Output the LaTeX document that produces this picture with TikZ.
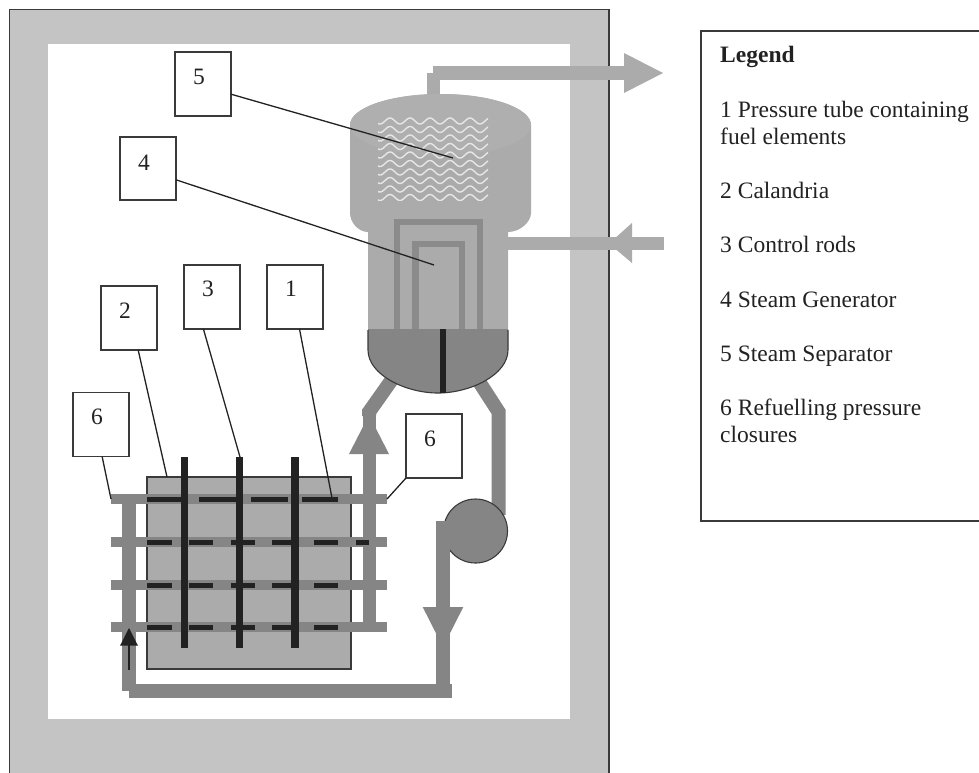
\documentclass[tikz,border=0pt]{standalone}
\usepackage{fontspec}
\setmainfont{Liberation Serif}
\definecolor{framegray}{HTML}{C4C4C4}
\definecolor{vessel}{HTML}{ABABAB}
\definecolor{vesseltop}{HTML}{AFAFAF}
\definecolor{pipegray}{HTML}{858585}
\definecolor{tubegray}{HTML}{8B8B8B}
\definecolor{wavewhite}{HTML}{E6E6E6}
\definecolor{inkdark}{HTML}{222222}
\definecolor{edgedark}{HTML}{3A3A3A}
\tikzset{
  numbox/.style={draw=edgedark,line width=1.3pt,fill=white,inner sep=0pt,outer sep=0pt,anchor=north west,
    text width=56pt,align=left,text height=32pt,text depth=32pt,text=inkdark,
    font=\fontsize{23.5}{27}\selectfont,execute at begin node=\hspace*{18pt}},
  leader/.style={draw=inkdark,line width=1.3pt},
  legendtext/.style={anchor=base west,inner sep=0pt,text=inkdark,font=\fontsize{23.5}{27}\selectfont},
  pipe/.style={fill=pipegray,draw=none},
  steam/.style={fill=vessel,draw=none},
  black rod/.style={fill=inkdark,draw=none}
}
\begin{document}
\begin{tikzpicture}[x=1pt,y=-1pt]
\clip (0,0) rectangle (979,772);
\fill[white] (0,0) rectangle (979,772);
% containment
\draw[fill=framegray,draw=edgedark,line width=1.5pt] (9.5,9.5) rectangle (609,790);
\fill[white] (48,44) rectangle (570,719);
% steam lines
\fill[steam] (433,66) rectangle (625,80);
\fill[steam] (427,73) rectangle (440,97);
\fill[steam] (624,53) -- (663,73) -- (624,93) -- cycle;
\fill[steam] (505,237) rectangle (664,250);
\fill[steam] (632,223) -- (609,243.5) -- (632,263) -- cycle;
% feed pipes to head
\draw[pipegray,line width=14pt] (369,416) -- (369,412) -- (393,378);
\draw[pipegray,line width=14pt] (498.7,515) -- (498.7,412) -- (478,380);
% vessel
\fill[steam] (350,125) .. controls (350,108) and (390,94) .. (440.5,94)
  .. controls (491,94) and (531,108) .. (531,125) -- (531,213)
  .. controls (531,222) and (520,232) .. (508,232) -- (508,329) -- (368,329) -- (368,232)
  .. controls (358,232) and (350,222) .. (350,213) -- cycle;
\fill[vesseltop] (350,125) .. controls (350,108) and (390,94) .. (440.5,94)
  .. controls (491,94) and (531,108) .. (531,125)
  .. controls (531,142) and (491,156) .. (440.5,156)
  .. controls (390,156) and (350,142) .. (350,125) -- cycle;
% separator waves
\begin{scope}
\clip (378,116.5) rectangle (488,200);
\foreach \r in {0,...,9}{
  \draw[wavewhite,line width=1.4pt] plot[domain=376:490,samples=115] (\x,{121+\r*8.5-3*cos(18*(\x-390))});
}
\end{scope}
% U tubes
\draw[draw=tubegray,line width=6.5pt] (397,329) -- (397,222) -- (480,222) -- (480,329);
\draw[draw=tubegray,line width=6.5pt] (415.5,329) -- (415.5,244) -- (462,244) -- (462,329);
% lower head
\fill[pipegray] (368,329) -- (508,329) -- (508,350) .. controls (508,375) and (470,393) .. (438,393)
  .. controls (406,393) and (368,375) .. (368,350) -- cycle;
\draw[edgedark,line width=1.1pt] (508,330) -- (508,350) .. controls (508,375) and (470,393) .. (438,393)
  .. controls (406,393) and (368,375) .. (368,350) -- (368,330);
\fill[black rod] (440,329) rectangle (446.3,392.5);
% calandria
\draw[fill=vessel,draw=edgedark,line width=1.2pt] (147,477) rectangle (351,669);
% pressure tubes
\foreach \y in {499,542,585,627}{ \fill[pipe] (111,\y-5) rectangle (387,\y+5); }
% headers and loop
\fill[pipe] (122,499) rectangle (136,691);
\fill[pipe] (129,684) rectangle (452,698);
\fill[pipe] (362.7,414) rectangle (375.7,624);
\fill[pipe] (349,454) -- (369,415) -- (389,454) -- cycle;
% pump
\draw[fill=pipegray,draw=edgedark,line width=1.1pt] (475.5,531) circle[radius=32];
\fill[pipe] (436,520.7) rectangle (450,686);
\fill[pipe] (422.7,607) -- (463.3,607) -- (443,647) -- cycle;
% flow arrow
\draw[inkdark,line width=1.5pt] (129,644) -- (129,670);
\fill[inkdark] (120,645.7) -- (129,628) -- (138,645.7) -- cycle;
% fuel elements
\foreach \a/\b in {147/182,199/240,250.7/287.7,302/338}{ \fill[black rod] (\a,496.5) rectangle (\b,501.5); }
\foreach \y in {542,585,627}{
  \foreach \a/\b in {147/171.7,189.3/213.3,230.7/254.7,272.3/296.7,314/337.7}{ \fill[black rod] (\a,\y-2.5) rectangle (\b,\y+2.5); }
}
\fill[black rod] (355.7,539.5) rectangle (369,544.5);
% control rods
\foreach \x in {184.3,239.7,295}{ \fill[black rod] (\x-3.6,456.7) rectangle (\x+3.6,648.3); }
% label boxes
\node[numbox] (b5) at (175,52) {5};
\node[numbox,text height=33pt,text depth=30pt] (b4) at (120,137) {4};
\node[numbox] (b2) at (101,286) {2};
\node[numbox,text height=31pt,text depth=33pt] (b3) at (184,265) {3};
\node[numbox,text height=31pt,text depth=33pt] (b1) at (267,265) {1};
\node[numbox,text height=31.5pt,text depth=32.5pt] (b6a) at (73,392.5) {6};
\node[numbox] (b6b) at (406,414) {6};
% leader ends
\coordinate (e5) at (453,158);
\coordinate (e4) at (434,265);
\coordinate (e2) at (167,477);
\coordinate (e3) at (240,457);
\coordinate (e1) at (332,498);
\coordinate (e6a) at (111,499);
\coordinate (e6b) at (387,499);
\draw[leader] (b5.-20.6) -- (e5);
\draw[leader] (b4.-22.5) -- (e4);
\draw[leader] (b2.-74.3) -- (e2);
\draw[leader] (b3.-105.7) -- (e3);
\draw[leader] (b1.-82.9) -- (e1);
\draw[leader] (b6a.-88) -- (e6a);
\draw[leader] (b6b.south west) -- (e6b);
% legend
\draw[fill=white,draw=edgedark,line width=1.5pt] (701,31) rectangle (995,521);
\node[legendtext,font=\fontsize{23.5}{27}\selectfont\bfseries] (l0) at (720,62) {Legend};
\node[legendtext] (l1a) at (720,117) {1 Pressure tube containing};
\node[legendtext] (l1b) at (720,144) {fuel elements};
\node[legendtext] (l2) at (720,198) {2 Calandria};
\node[legendtext] (l3) at (720,252) {3 Control rods};
\node[legendtext] (l4) at (720,307) {4 Steam Generator};
\node[legendtext] (l5) at (720,361) {5 Steam Separator};
\node[legendtext] (l6a) at (720,415) {6 Refuelling pressure};
\node[legendtext] (l6b) at (720,442) {closures};
\end{tikzpicture}
\end{document}
